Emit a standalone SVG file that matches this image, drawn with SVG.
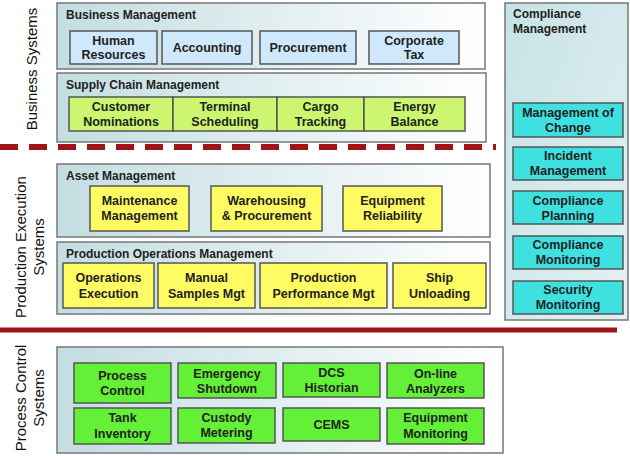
<svg xmlns="http://www.w3.org/2000/svg" width="630" height="456" viewBox="0 0 630 456">
<defs>
<linearGradient id="cg" x1="0" y1="0" x2="1" y2="0">
<stop offset="0" stop-color="#c3dde1"/>
<stop offset="1" stop-color="#ffffff"/>
</linearGradient>
<linearGradient id="cmg" x1="0" y1="0" x2="1" y2="1">
<stop offset="0" stop-color="#c6e3e6"/>
<stop offset="1" stop-color="#e4f0f2"/>
</linearGradient>
</defs>
<style>
.cont{fill:url(#cg);stroke:#777;stroke-width:1.5}
.bx{stroke:#555;stroke-width:1.5}
.blue{fill:#cfe8fb}
.lime{fill:#ccf570}
.yel{fill:#fffb62}
.teal{fill:#3fe0e0}
.grn{fill:#63f036}
text{font-family:"Liberation Sans",Arial,sans-serif;fill:#222}
.h{font-size:12px;font-weight:bold}
.t{font-size:12.5px;font-weight:bold;text-anchor:middle}
.v{font-size:15px;text-anchor:middle;fill:#111}
</style>

<g id="side-labels">
<text class="v" transform="translate(37,69) rotate(-90)">Business Systems</text>
<text class="v" transform="translate(26,247) rotate(-90)">Production Execution</text>
<text class="v" transform="translate(44,247) rotate(-90)">Systems</text>
<text class="v" transform="translate(26,398) rotate(-90)">Process Control</text>
<text class="v" transform="translate(44,398) rotate(-90)">Systems</text>
</g>

<g id="separators">
<line x1="0" y1="147" x2="496" y2="147" stroke="#a01418" stroke-width="6" stroke-dasharray="18 11"/>
<line x1="0" y1="330" x2="617" y2="330" stroke="#a01418" stroke-width="5"/>
</g>

<g id="business-management">
<rect class="cont" x="57" y="3" width="428" height="66"/>
<text class="h" x="66" y="19">Business Management</text>
</g>
<g id="human-resources"><rect class="bx blue" x="70" y="31" width="87" height="33"/><text class="t" x="113.5" y="45">Human</text><text class="t" x="113.5" y="59">Resources</text></g>
<g id="accounting"><rect class="bx blue" x="162" y="31" width="90" height="33"/><text class="t" x="207" y="52">Accounting</text></g>
<g id="procurement"><rect class="bx blue" x="260" y="31" width="96" height="33"/><text class="t" x="308" y="52">Procurement</text></g>
<g id="corporate-tax"><rect class="bx blue" x="369" y="31" width="90" height="33"/><text class="t" x="414" y="45">Corporate</text><text class="t" x="414" y="59">Tax</text></g>

<g id="supply-chain-management">
<rect class="cont" x="57" y="73" width="429" height="69"/>
<text class="h" x="66" y="89">Supply Chain Management</text>
</g>
<g id="customer-nominations"><rect class="bx lime" x="69" y="97" width="104" height="34"/><text class="t" x="121" y="111">Customer</text><text class="t" x="121" y="126">Nominations</text></g>
<g id="terminal-scheduling"><rect class="bx lime" x="173" y="97" width="104" height="34"/><text class="t" x="225" y="111">Terminal</text><text class="t" x="225" y="126">Scheduling</text></g>
<g id="cargo-tracking"><rect class="bx lime" x="277" y="97" width="87" height="34"/><text class="t" x="320.5" y="111">Cargo</text><text class="t" x="320.5" y="126">Tracking</text></g>
<g id="energy-balance"><rect class="bx lime" x="364" y="97" width="101" height="34"/><text class="t" x="414.5" y="111">Energy</text><text class="t" x="414.5" y="126">Balance</text></g>

<g id="compliance-management">
<rect x="505" y="3" width="123" height="317" fill="url(#cmg)" stroke="#777" stroke-width="1.5"/>
<text class="h" x="513" y="18">Compliance</text>
<text class="h" x="513" y="33">Management</text>
</g>
<g id="management-of-change"><rect class="bx teal" x="513" y="103" width="110" height="34"/><text class="t" x="568" y="117">Management of</text><text class="t" x="568" y="132">Change</text></g>
<g id="incident-management"><rect class="bx teal" x="513" y="147" width="110" height="33"/><text class="t" x="568" y="160">Incident</text><text class="t" x="568" y="175">Management</text></g>
<g id="compliance-planning"><rect class="bx teal" x="513" y="191" width="110" height="33"/><text class="t" x="568" y="205">Compliance</text><text class="t" x="568" y="220">Planning</text></g>
<g id="compliance-monitoring"><rect class="bx teal" x="513" y="236" width="110" height="33"/><text class="t" x="568" y="249">Compliance</text><text class="t" x="568" y="264">Monitoring</text></g>
<g id="security-monitoring"><rect class="bx teal" x="513" y="281" width="110" height="33"/><text class="t" x="568" y="294">Security</text><text class="t" x="568" y="309">Monitoring</text></g>

<g id="asset-management">
<rect class="cont" x="57" y="164" width="433" height="73"/>
<text class="h" x="66" y="180">Asset Management</text>
</g>
<g id="maintenance-management"><rect class="bx yel" x="90" y="186" width="99" height="45"/><text class="t" x="139.5" y="205">Maintenance</text><text class="t" x="139.5" y="220">Management</text></g>
<g id="warehousing-procurement"><rect class="bx yel" x="211" y="186" width="111" height="45"/><text class="t" x="266.5" y="205">Warehousing</text><text class="t" x="266.5" y="220">&amp; Procurement</text></g>
<g id="equipment-reliability"><rect class="bx yel" x="343" y="186" width="99" height="45"/><text class="t" x="392.5" y="205">Equipment</text><text class="t" x="392.5" y="220">Reliability</text></g>

<g id="production-operations-management">
<rect class="cont" x="57" y="242" width="433" height="72"/>
<text class="h" x="66" y="258">Production Operations Management</text>
</g>
<g id="operations-execution"><rect class="bx yel" x="63" y="263" width="91" height="45"/><text class="t" x="108.5" y="282">Operations</text><text class="t" x="108.5" y="298">Execution</text></g>
<g id="manual-samples-mgt"><rect class="bx yel" x="158" y="263" width="97" height="45"/><text class="t" x="206.5" y="282">Manual</text><text class="t" x="206.5" y="298">Samples Mgt</text></g>
<g id="production-performance-mgt"><rect class="bx yel" x="260" y="263" width="127" height="45"/><text class="t" x="323.5" y="282">Production</text><text class="t" x="323.5" y="298">Performance Mgt</text></g>
<g id="ship-unloading"><rect class="bx yel" x="393" y="263" width="93" height="45"/><text class="t" x="439.5" y="282">Ship</text><text class="t" x="439.5" y="298">Unloading</text></g>

<g id="process-control-systems">
<rect class="cont" x="57" y="347" width="446" height="106"/>
</g>
<g id="process-control"><rect class="bx grn" x="74" y="363" width="97" height="40"/><text class="t" x="122.5" y="380">Process</text><text class="t" x="122.5" y="395">Control</text></g>
<g id="emergency-shutdown"><rect class="bx grn" x="178" y="363" width="98" height="35"/><text class="t" x="227" y="378">Emergency</text><text class="t" x="227" y="393">Shutdown</text></g>
<g id="dcs-historian"><rect class="bx grn" x="283" y="363" width="97" height="34"/><text class="t" x="331.5" y="377">DCS</text><text class="t" x="331.5" y="392">Historian</text></g>
<g id="on-line-analyzers"><rect class="bx grn" x="387" y="363" width="97" height="35"/><text class="t" x="435.5" y="378">On-line</text><text class="t" x="435.5" y="393">Analyzers</text></g>
<g id="tank-inventory"><rect class="bx grn" x="74" y="408" width="97" height="36"/><text class="t" x="122.5" y="422">Tank</text><text class="t" x="122.5" y="438">Inventory</text></g>
<g id="custody-metering"><rect class="bx grn" x="178" y="408" width="97" height="35"/><text class="t" x="226.5" y="422">Custody</text><text class="t" x="226.5" y="437">Metering</text></g>
<g id="cems"><rect class="bx grn" x="283" y="408" width="97" height="33"/><text class="t" x="331.5" y="429">CEMS</text></g>
<g id="equipment-monitoring"><rect class="bx grn" x="387" y="408" width="97" height="36"/><text class="t" x="435.5" y="422">Equipment</text><text class="t" x="435.5" y="438">Monitoring</text></g>
</svg>
